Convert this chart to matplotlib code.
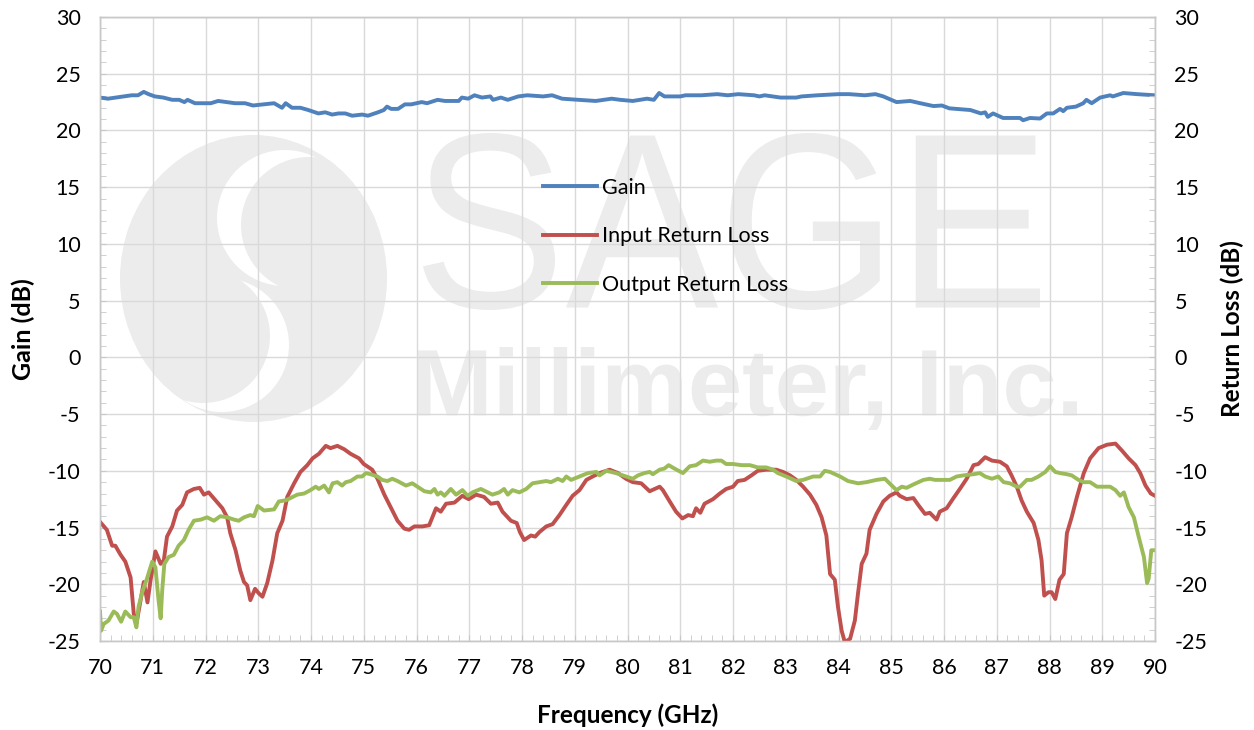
import matplotlib
matplotlib.use("Agg")
import matplotlib.pyplot as plt
from matplotlib.patches import Ellipse, PathPatch
from matplotlib.textpath import TextPath
from matplotlib.font_manager import FontProperties
from matplotlib.transforms import Affine2D
from matplotlib.ticker import MultipleLocator

plt.rcParams['font.family'] = ['Lato', 'DejaVu Sans']
plt.rcParams['axes.unicode_minus'] = False

# Gain (dB) vs frequency (GHz)
gain_f = [70.0, 70.15, 70.3, 70.45, 70.6, 70.72, 70.83, 70.92, 71.04, 71.2, 71.37, 71.5,
          71.6, 71.66, 71.8, 72.1, 72.24, 72.4, 72.56, 72.75, 72.9, 73.1, 73.3, 73.45,
          73.52, 73.64, 73.8, 73.95, 74.14, 74.27, 74.4, 74.52, 74.65, 74.78, 74.97, 75.08,
          75.27, 75.38, 75.44, 75.52, 75.65, 75.78, 75.9, 76.1, 76.2, 76.4, 76.54, 76.8,
          76.86, 76.98, 77.1, 77.24, 77.4, 77.45, 77.6, 77.73, 77.93, 78.1, 78.4, 78.57,
          78.76, 79.07, 79.4, 79.7, 79.86, 80.1, 80.37, 80.5, 80.6, 80.7, 81.0, 81.1,
          81.4, 81.7, 81.9, 82.1, 82.4, 82.5, 82.6, 82.9, 83.2, 83.3, 83.6, 84.0,
          84.2, 84.5, 84.7, 84.85, 85.1, 85.36, 85.55, 85.8, 85.96, 86.1, 86.5, 86.7,
          86.78, 86.83, 86.93, 87.12, 87.44, 87.5, 87.63, 87.82, 87.95, 88.07, 88.2, 88.26,
          88.33, 88.5, 88.64, 88.7, 88.8, 88.96, 89.15, 89.2, 89.4, 89.66, 90.0]
gain_db = [22.9, 22.8, 22.9, 23.0, 23.1, 23.1, 23.4, 23.2, 23.0, 22.9, 22.7, 22.7,
           22.5, 22.7, 22.4, 22.4, 22.6, 22.5, 22.4, 22.4, 22.2, 22.3, 22.4, 22.0,
           22.4, 22.0, 22.0, 21.8, 21.5, 21.6, 21.4, 21.5, 21.5, 21.3, 21.4, 21.3,
           21.6, 21.8, 22.1, 21.9, 21.9, 22.3, 22.3, 22.5, 22.4, 22.7, 22.6, 22.6,
           22.9, 22.8, 23.1, 22.9, 23.0, 22.7, 22.9, 22.7, 23.0, 23.1, 23.0, 23.1,
           22.8, 22.7, 22.6, 22.8, 22.7, 22.6, 22.8, 22.7, 23.3, 23.0, 23.0, 23.1,
           23.1, 23.2, 23.1, 23.2, 23.1, 23.0, 23.1, 22.9, 22.9, 23.0, 23.1, 23.2,
           23.2, 23.1, 23.2, 23.0, 22.5, 22.6, 22.4, 22.15, 22.2, 21.95, 21.8, 21.5,
           21.6, 21.2, 21.5, 21.1, 21.1, 20.9, 21.1, 21.05, 21.5, 21.5, 21.9, 21.7,
           22.0, 22.1, 22.4, 22.7, 22.4, 22.9, 23.1, 23.0, 23.3, 23.2, 23.1]

# Input return loss (dB)
irl_f = [70.0, 70.13, 70.23, 70.29, 70.39, 70.48, 70.58, 70.64, 70.69, 70.77, 70.83, 70.9,
         70.96, 71.05, 71.15, 71.21, 71.27, 71.37, 71.46, 71.56, 71.65, 71.78, 71.89, 71.97,
         72.06, 72.19, 72.32, 72.41, 72.47, 72.57, 72.66, 72.73, 72.79, 72.85, 72.94, 73.01,
         73.08, 73.17, 73.27, 73.36, 73.46, 73.55, 73.68, 73.8, 73.93, 74.03, 74.15, 74.28,
         74.37, 74.5, 74.63, 74.75, 74.91, 75.0, 75.16, 75.26, 75.39, 75.51, 75.64, 75.77,
         75.86, 75.96, 76.11, 76.24, 76.37, 76.46, 76.56, 76.72, 76.87, 76.99, 77.13, 77.28,
         77.41, 77.54, 77.63, 77.79, 77.9, 77.96, 78.04, 78.17, 78.25, 78.33, 78.46, 78.58,
         78.71, 78.84, 78.96, 79.09, 79.22, 79.34, 79.47, 79.66, 79.82, 79.97, 80.1, 80.26,
         80.42, 80.61, 80.67, 80.8, 80.92, 81.04, 81.15, 81.24, 81.3, 81.38, 81.46, 81.62,
         81.75, 81.87, 82.0, 82.09, 82.22, 82.35, 82.47, 82.63, 82.82, 82.95, 83.08, 83.2,
         83.33, 83.46, 83.58, 83.68, 83.77, 83.84, 83.93, 83.99, 84.06, 84.12, 84.22, 84.31,
         84.37, 84.44, 84.53, 84.59, 84.72, 84.85, 84.97, 85.1, 85.16, 85.29, 85.42, 85.51,
         85.64, 85.73, 85.86, 85.92, 86.05, 86.18, 86.3, 86.43, 86.56, 86.65, 86.78, 86.91,
         87.06, 87.19, 87.28, 87.38, 87.47, 87.57, 87.7, 87.79, 87.85, 87.9, 87.98, 88.04,
         88.11, 88.19, 88.27, 88.33, 88.42, 88.52, 88.65, 88.77, 88.93, 89.09, 89.25, 89.37,
         89.5, 89.63, 89.72, 89.82, 89.92, 90.0]
irl_db = [-14.5, -15.2, -16.6, -16.6, -17.4, -18.0, -19.4, -22.6, -23.5, -21.4, -19.8, -21.6,
          -19.6, -17.1, -18.2, -17.9, -15.8, -14.9, -13.5, -13.0, -11.9, -11.6, -11.5, -12.1,
          -11.9, -12.6, -13.3, -14.1, -15.5, -17.0, -18.8, -19.8, -20.1, -21.4, -20.4, -20.8,
          -21.1, -19.9, -17.9, -15.5, -14.4, -12.3, -11.1, -10.1, -9.5, -8.9, -8.5, -7.8,
          -8.0, -7.8, -8.1, -8.5, -8.9, -9.4, -9.9, -10.7, -12.1, -13.2, -14.4, -15.1,
          -15.2, -14.9, -14.9, -14.8, -13.3, -13.6, -12.9, -12.8, -12.2, -12.5, -12.1, -12.3,
          -12.9, -12.8, -13.6, -14.4, -14.6, -15.4, -16.1, -15.7, -15.8, -15.4, -14.9, -14.7,
          -13.9, -13.0, -12.2, -11.7, -10.8, -10.5, -10.2, -9.9, -10.2, -10.7, -11.0, -11.1,
          -11.8, -11.4, -11.7, -12.7, -13.6, -14.2, -13.9, -14.0, -13.3, -13.7, -12.9, -12.5,
          -12.0, -11.6, -11.4, -10.9, -10.8, -10.4, -10.0, -9.9, -9.9, -10.1, -10.4, -10.8,
          -11.4, -12.1, -13.0, -14.1, -15.7, -19.1, -19.6, -22.0, -24.1, -25.1, -24.8, -23.2,
          -20.8, -18.2, -17.3, -15.2, -13.8, -12.7, -12.2, -11.9, -12.2, -12.5, -12.4, -13.0,
          -13.8, -13.7, -14.3, -13.6, -13.3, -12.4, -11.6, -10.7, -9.5, -9.4, -8.8, -9.1,
          -9.2, -9.6, -10.4, -11.4, -12.6, -13.6, -14.6, -16.1, -17.9, -21.0, -20.7, -20.7,
          -21.3, -19.6, -19.1, -15.5, -14.1, -12.3, -10.2, -8.9, -8.0, -7.7, -7.6, -8.2,
          -8.9, -9.5, -10.2, -11.3, -12.0, -12.2]

# Output return loss (dB)
orl_f = [70.0, 70.02, 70.07, 70.16, 70.26, 70.32, 70.4, 70.48, 70.58, 70.64, 70.69, 70.73,
         70.8, 70.89, 70.99, 71.05, 71.11, 71.15, 71.18, 71.22, 71.3, 71.4, 71.49, 71.59,
         71.68, 71.78, 71.91, 72.03, 72.16, 72.28, 72.41, 72.54, 72.63, 72.73, 72.85, 72.92,
         72.99, 73.11, 73.3, 73.39, 73.52, 73.61, 73.74, 73.87, 73.99, 74.09, 74.15, 74.25,
         74.34, 74.41, 74.5, 74.59, 74.66, 74.75, 74.88, 74.97, 75.04, 75.13, 75.26, 75.35,
         75.45, 75.54, 75.64, 75.8, 75.92, 76.02, 76.15, 76.27, 76.34, 76.4, 76.46, 76.53,
         76.65, 76.75, 76.87, 76.97, 77.06, 77.22, 77.35, 77.44, 77.57, 77.66, 77.73, 77.82,
         77.95, 78.08, 78.2, 78.33, 78.46, 78.55, 78.68, 78.77, 78.84, 78.93, 79.09, 79.25,
         79.41, 79.47, 79.6, 79.78, 79.97, 80.1, 80.2, 80.32, 80.42, 80.48, 80.61, 80.7,
         80.78, 80.89, 81.05, 81.18, 81.3, 81.43, 81.56, 81.68, 81.78, 81.87, 82.0, 82.16,
         82.32, 82.47, 82.63, 82.76, 82.85, 83.01, 83.2, 83.33, 83.52, 83.65, 83.74, 83.84,
         84.03, 84.18, 84.37, 84.53, 84.72, 84.88, 85.01, 85.1, 85.2, 85.29, 85.42, 85.61,
         85.73, 85.83, 85.96, 86.11, 86.24, 86.37, 86.56, 86.68, 86.78, 86.91, 87.03, 87.13,
         87.25, 87.38, 87.44, 87.57, 87.66, 87.79, 87.92, 88.01, 88.11, 88.2, 88.33, 88.42,
         88.55, 88.65, 88.77, 88.9, 89.03, 89.15, 89.25, 89.34, 89.41, 89.5, 89.6, 89.69,
         89.79, 89.85, 89.88, 89.93, 90.0]
orl_db = [-22.4, -24.1, -23.5, -23.2, -22.4, -22.6, -23.3, -22.4, -22.9, -22.9, -23.8, -22.0,
          -20.7, -19.5, -18.0, -18.5, -21.4, -23.0, -20.5, -18.2, -17.6, -17.4, -16.6, -16.1,
          -15.2, -14.4, -14.3, -14.1, -14.4, -14.0, -14.1, -14.3, -14.4, -14.1, -13.9, -14.0,
          -13.1, -13.5, -13.4, -12.7, -12.6, -12.4, -12.1, -12.0, -11.7, -11.4, -11.6, -11.3,
          -11.9, -11.1, -11.0, -11.3, -11.0, -10.9, -10.5, -10.5, -10.2, -10.3, -10.5, -10.8,
          -10.9, -10.7, -10.9, -11.3, -11.1, -11.4, -11.8, -11.9, -11.6, -12.1, -11.9, -12.2,
          -11.6, -12.1, -11.7, -12.2, -11.9, -11.6, -11.9, -12.1, -11.9, -11.6, -12.1, -11.7,
          -11.9, -11.6, -11.1, -11.0, -10.9, -11.0, -10.7, -10.9, -10.5, -10.8, -10.5, -10.2,
          -10.1, -10.4, -10.0, -10.2, -10.5, -10.7, -10.4, -10.2, -10.1, -10.3, -9.9, -9.8,
          -9.5, -9.8, -10.2, -9.6, -9.5, -9.1, -9.2, -9.1, -9.1, -9.4, -9.4, -9.5,
          -9.5, -9.7, -9.7, -9.9, -10.2, -10.5, -10.9, -10.8, -10.5, -10.5, -10.0, -10.1,
          -10.5, -10.9, -11.1, -11.0, -10.8, -10.7, -11.3, -11.7, -11.4, -11.5, -11.2, -10.8,
          -10.7, -10.8, -10.8, -10.8, -10.5, -10.4, -10.3, -10.2, -10.5, -10.7, -10.5, -11.0,
          -11.1, -11.4, -11.4, -10.8, -10.8, -10.5, -10.1, -9.6, -10.1, -10.2, -10.3, -10.4,
          -10.8, -11.0, -11.0, -11.4, -11.4, -11.4, -11.7, -12.2, -11.9, -13.2, -14.1, -15.8,
          -17.6, -19.9, -19.5, -17.0, -17.0]

fig = plt.figure(figsize=(12.54, 7.3), dpi=100)

# watermark layer, in figure pixels
bg = fig.add_axes([0, 0, 1, 1], zorder=-1)
bg.set_xlim(0, 1254)
bg.set_ylim(730, 0)
bg.axis('off')
wm = '#ececec'
disc = Ellipse((253.5, 278.5), 267, 287, color=wm, lw=0)
bg.add_patch(disc)
for c_white, c_gray, r in [((285, 218), (309, 225), 68), ((222, 345), (203, 336), 67)]:
    w = Ellipse(c_white, 2 * r, 2 * r, color='white', lw=0)
    bg.add_patch(w)
    w.set_clip_path(disc)
    g = Ellipse(c_gray, 2 * r, 2 * r, color=wm, lw=0)
    bg.add_patch(g)
    g.set_clip_path(disc)


def fit_text(s, box, weight='normal'):
    tp = TextPath((0, 0), s, size=100, prop=FontProperties(family='Liberation Sans', weight=weight))
    bb = tp.get_extents()
    x0, y0, x1, y1 = box
    tr = Affine2D().translate(-bb.x0, -bb.y0).scale((x1 - x0) / bb.width, -(y1 - y0) / bb.height).translate(x0, y1)
    bg.add_patch(PathPatch(tr.transform_path(tp), color=wm, lw=0))


fit_text("SAGE", (423, 133, 1040, 310))
fit_text("Millimeter, Inc.", (418, 347, 1077, 430), weight='bold')

ax = fig.add_axes([100 / 1254, 1 - 641 / 730, 1055 / 1254, 624 / 730])
ax.patch.set_visible(False)
ax2 = ax.twinx()

grey = '#c8c8c8'
for a in (ax, ax2):
    a.set_xlim(70, 90)
    a.set_ylim(-25, 30)
    a.yaxis.set_major_locator(MultipleLocator(5))
    a.yaxis.set_minor_locator(MultipleLocator(1))
    for sp in a.spines.values():
        sp.set_color(grey)
        sp.set_linewidth(1.0)
ax.xaxis.set_major_locator(MultipleLocator(1))
ax.xaxis.set_minor_locator(MultipleLocator(0.2))
ax.grid(True, which='major', color='#d9d9d9', lw=1.0)
ax.set_axisbelow(True)

ax.tick_params(which='both', direction='in', length=4, color=grey, labelsize=15.5)
ax.tick_params(axis='y', which='both', pad=14)
ax.tick_params(axis='x', which='both', pad=12)
ax2.tick_params(which='both', direction='in', length=4, color=grey, labelsize=15.5, pad=14)

l1, = ax.plot(gain_f, gain_db, color='#4f81bd', lw=2.8, solid_joinstyle='round', label='Gain')
l2, = ax2.plot(irl_f, irl_db, color='#c0504d', lw=2.8, solid_joinstyle='round', label='Input Return Loss')
l3, = ax2.plot(orl_f, orl_db, color='#9bbb59', lw=2.8, solid_joinstyle='round', label='Output Return Loss')

ax.set_xlabel('Frequency (GHz)', fontsize=17.5, fontweight='bold')
ax.set_ylabel('Gain (dB)', fontsize=18, fontweight='bold')
ax2.set_ylabel('Return Loss (dB)', fontsize=17.5, fontweight='bold')
ax.xaxis.set_label_coords(0.5, -0.1)
ax.yaxis.set_label_coords(-0.0616, 0.5)
ax2.yaxis.set_label_coords(1.0625, 0.5)

ax2.legend(handles=[l1, l2, l3], loc='upper left', bbox_to_anchor=(0.42, 0.742),
           frameon=False, fontsize=15.5, handlelength=2.5, handletextpad=0.25,
           labelspacing=1.32, borderpad=0, borderaxespad=0)

fig.savefig('out.png', dpi=100)
